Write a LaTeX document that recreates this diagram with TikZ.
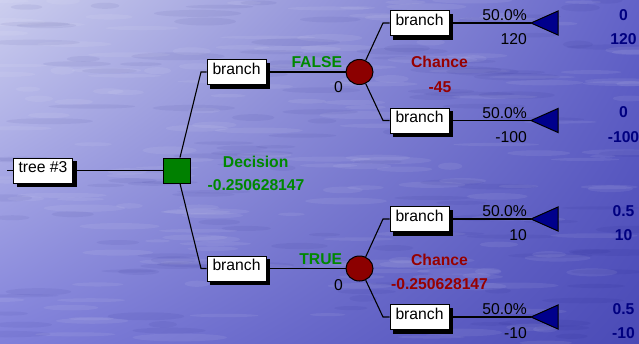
\documentclass[tikz,border=0pt]{standalone}
\usepackage{fontspec}
\setmainfont{Liberation Sans}
\usetikzlibrary{shapes.geometric,shadings}

\definecolor{bgUL}{RGB}{204,206,238}
\definecolor{bgUR}{RGB}{98,98,200}
\definecolor{bgLL}{RGB}{128,128,218}
\definecolor{bgLR}{RGB}{74,74,182}
\definecolor{decfill}{RGB}{0,128,0}
\definecolor{decgreen}{RGB}{0,136,0}
\definecolor{chfill}{RGB}{140,0,0}
\definecolor{chred}{RGB}{150,0,0}
\definecolor{termfill}{RGB}{0,0,140}
\definecolor{valblue}{RGB}{0,0,128}

\pgfdeclarelayer{backdrop}
\pgfdeclarelayer{shadowlayer}
\pgfsetlayers{backdrop,shadowlayer,main}

\tikzset{
  wire/.style={line width=1.1pt, black},
  box/.style={draw=black, fill=white, line width=1pt, inner sep=0pt,
    minimum width=59pt, minimum height=25pt, text height=11.3pt, text depth=6.7pt},
  decnode/.style={draw=black, fill=decfill, line width=1pt, inner sep=0pt,
    minimum width=27pt, minimum height=25pt},
  chancenode/.style={ellipse, draw=black, fill=chfill, line width=1pt, inner sep=0pt,
    minimum width=27pt, minimum height=25pt},
  termnode/.style={draw=black, fill=termfill, line width=1pt, line join=miter},
  glab/.style={text=decgreen, font=\fontsize{15.7}{18}\selectfont\bfseries, inner sep=0pt},
  rlab/.style={text=chred, font=\fontsize{15.7}{18}\selectfont\bfseries, inner sep=0pt},
  vlab/.style={text=valblue, font=\fontsize{15.7}{18}\selectfont\bfseries, inner sep=0pt, anchor=base},
  plab/.style={text=black, inner sep=0pt, anchor=base east},
}

\begin{document}
\begin{tikzpicture}[x=1pt, y=-1pt, font=\fontsize{15.7}{18}\selectfont]
  % canvas and water-like background
  \useasboundingbox (0,0) rectangle (639,343);
  \begin{pgfonlayer}{backdrop}
  \shade[upper left=bgUL, upper right=bgUR, lower left=bgLL, lower right=bgLR]
    (0,0) rectangle (639,343);
  \begin{scope}
    \clip (0,0) rectangle (639,343);
    \pgfmathsetseed{11}
    \foreach \i in {1,...,170}{
      \pgfmathsetmacro\xx{rnd*639}
      \pgfmathsetmacro\yy{rnd*343}
      \pgfmathsetmacro\ww{12+rnd*36}
      \pgfmathsetmacro\hh{1.5+rnd*2.5}
      \fill[white, opacity=0.07] (\xx,\yy) ellipse [x radius=\ww, y radius=\hh];
    }
    \foreach \i in {1,...,120}{
      \pgfmathsetmacro\xx{rnd*639}
      \pgfmathsetmacro\yy{rnd*343}
      \pgfmathsetmacro\ww{12+rnd*36}
      \pgfmathsetmacro\hh{1.5+rnd*2.5}
      \fill[blue!40!black, opacity=0.05] (\xx,\yy) ellipse [x radius=\ww, y radius=\hh];
    }
  \end{scope}
  \end{pgfonlayer}

  % root, decision and first-level branches
  \coordinate (root) at (7,170.5);
  \node[box] (tree) at (43,170.5) {tree \#3};
  \node[decnode] (dec) at (176.5,170.5) {};
  \node[box] (bF) at (236.5,72) {branch};
  \node[box] (bT) at (236.5,268.5) {branch};
  \node[chancenode] (cF) at (359.5,72) {};
  \node[chancenode] (cT) at (359.5,268.5) {};

  % outcome branches
  \node[box] (b1) at (419.5,23) {branch};
  \node[box] (b2) at (419.5,120.5) {branch};
  \node[box] (b3) at (419.5,219) {branch};
  \node[box] (b4) at (419.5,317) {branch};

  % drop shadows behind the label boxes
  \begin{pgfonlayer}{shadowlayer}
    \foreach \b in {tree,bF,bT,b1,b2,b3,b4}{
      \fill[black] ([shift={(3.5,3.5)}]\b.north west) rectangle ([shift={(3.5,3.5)}]\b.south east);
    }
  \end{pgfonlayer}

  % terminal triangles
  \foreach \n/\yy in {t1/23, t2/120.5, t3/219, t4/317}{
    \coordinate (\n) at (531,\yy);
    \filldraw[termnode] (\n) -- ++(27,-12) -- ++(0,24) -- cycle;
  }

  % elbows
  \coordinate (kF) at (201,72);
  \coordinate (kT) at (201,268.5);
  \coordinate (k1) at (383,23);
  \coordinate (k2) at (383,120.5);
  \coordinate (k3) at (383,219);
  \coordinate (k4) at (383,317);

  % connectors
  \draw[wire] (root) -- (tree.west);
  \draw[wire] (tree.east) -- (dec.west);
  \draw[wire] ([xshift=3.5pt]dec.north) -- (kF) -- (bF.west);
  \draw[wire] ([xshift=3.5pt]dec.south) -- (kT) -- (bT.west);
  \draw[wire] (bF.east) -- (cF.west);
  \draw[wire] (bT.east) -- (cT.west);
  \draw[wire] (cF.62) -- (k1) -- (b1.west);
  \draw[wire] (cF.-62) -- (k2) -- (b2.west);
  \draw[wire] (cT.62) -- (k3) -- (b3.west);
  \draw[wire] (cT.-62) -- (k4) -- (b4.west);
  \draw[wire] (b1.east) -- (t1);
  \draw[wire] (b2.east) -- (t2);
  \draw[wire] (b3.east) -- (t3);
  \draw[wire] (b4.east) -- (t4);

  % decision labels
  \node[glab, anchor=base] (decname) at (255.7,167.3) {Decision};
  \node[glab, anchor=base] (decval) at (256,190.7) {-0.250628147};
  \node[glab, anchor=base east] (lF) at (342.3,67.7) {FALSE};
  \node[glab, anchor=base east] (lT) at (342.3,264.5) {TRUE};
  \node[plab] (pF) at (343,92.7) {0};
  \node[plab] (pT) at (343,290) {0};

  % chance labels
  \node[rlab, anchor=base] (cFname) at (439.5,67.7) {Chance};
  \node[rlab, anchor=base] (cFval) at (440,92.7) {-45};
  \node[rlab, anchor=base] (cTname) at (439.5,265) {Chance};
  \node[rlab, anchor=base] (cTval) at (439.5,289) {-0.250628147};

  % probabilities and payoffs
  \foreach \n/\yy/\pay/\pr/\vv in {1/23/120/0/120, 2/120.5/-100/0/-100, 3/219/10/0.5/10, 4/317/-10/0.5/-10}{
    \node[plab] (prob\n) at (527,\yy-2.5) {50.0\%};
    \node[plab] (pay\n) at (527,\yy+21.5) {\pay};
    \node[vlab] (vp\n) at (623.5,\yy-3) {\pr};
    \node[vlab] (vv\n) at (623.5,\yy+21.5) {\vv};
  }
\end{tikzpicture}
\end{document}
